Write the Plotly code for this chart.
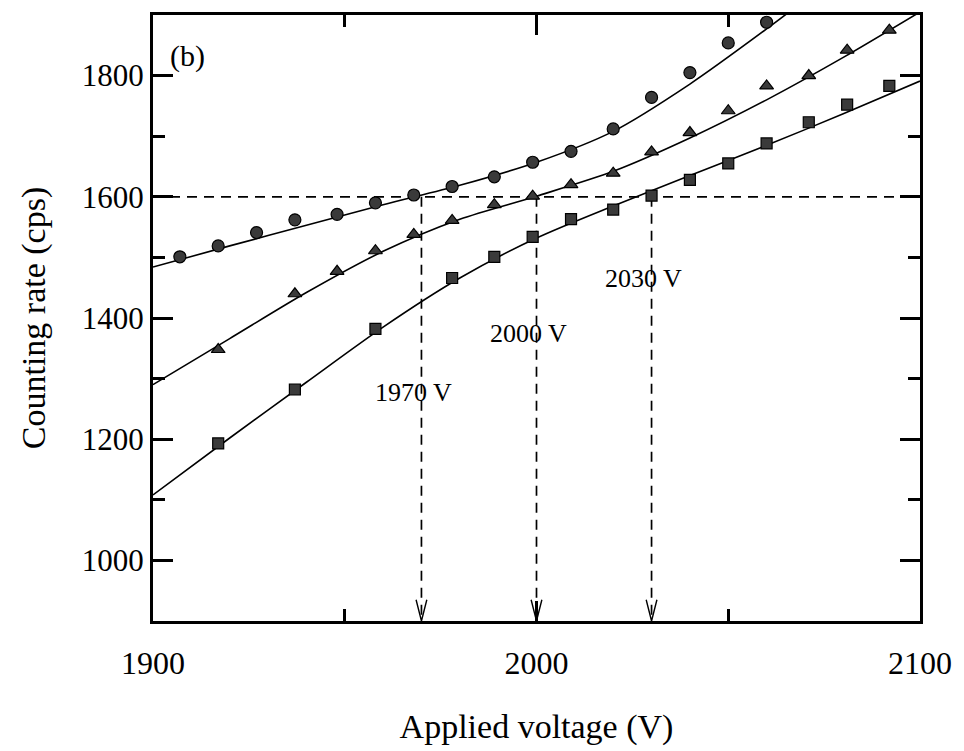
import plotly.graph_objects as go

# Applied voltage (V) at which the counting rate was measured
volt_circle = [1907, 1917, 1927, 1937, 1948, 1958, 1968, 1978, 1989, 1999,
               2009, 2020, 2030, 2040, 2050, 2060]
rate_circle = [1501, 1519, 1541, 1562, 1571, 1590, 1603, 1617, 1633, 1657,
               1675, 1712, 1764, 1805, 1854, 1888]

volt_triangle = [1917, 1937, 1948, 1958, 1968, 1978, 1989, 1999, 2009, 2020,
                 2030, 2040, 2050, 2060, 2071, 2081, 2092]
rate_triangle = [1348, 1440, 1477, 1511, 1538, 1561, 1587, 1601, 1620, 1639,
                 1674, 1706, 1742, 1783, 1800, 1842, 1875]

volt_square = [1917, 1937, 1958, 1978, 1989, 1999, 2009, 2020, 2030, 2040,
               2050, 2060, 2071, 2081, 2092]
rate_square = [1193, 1282, 1382, 1466, 1501, 1534, 1563, 1579, 1602, 1628,
               1655, 1688, 1723, 1752, 1783]

# Fitted curves through each data set
fit_volt = [1900, 1920, 1940, 1960, 1980, 2000, 2020, 2040, 2060, 2080, 2100]
fit_volt_circle = [1900, 1920, 1940, 1960, 1980, 2000, 2020, 2040, 2060, 2070]
fit_circle = [1484, 1519, 1553, 1587, 1619, 1657, 1708, 1786, 1877, 1925]
fit_triangle = [1290, 1366, 1442, 1510, 1563, 1601, 1642, 1697, 1760, 1830, 1905]
fit_square = [1108, 1202, 1294, 1385, 1466, 1532, 1585, 1635, 1685, 1737, 1791]

# Operating-voltage markers at a counting rate of 1600 cps
ref_rate = 1600
op_volts = [1970, 2000, 2030]
op_labels = ["1970 V", "2000 V", "2030 V"]
op_label_rate = [1277, 1375, 1466]

x_range = [1900, 2100]
y_range = [900, 1900]

FONT = "Liberation Serif"
BLACK = "#000000"
MARK_FILL = "#3a3a3a"

fig = go.Figure()

line_style = dict(color=BLACK, width=1.6, shape="spline", smoothing=0.8)
for xs, ys in [(fit_volt_circle, fit_circle), (fit_volt, fit_triangle),
               (fit_volt, fit_square)]:
    fig.add_trace(go.Scatter(x=xs, y=ys, mode="lines", line=line_style,
                             hoverinfo="skip", showlegend=False))

# horizontal reference at 1600 cps
fig.add_trace(go.Scatter(x=x_range, y=[ref_rate, ref_rate], mode="lines",
                         line=dict(color=BLACK, width=1.7, dash="10px,7px"),
                         hoverinfo="skip", showlegend=False))

# vertical dashed drops with open arrowheads at the voltage axis
head_half_width = 1.4   # V
head_length = 35        # cps
for v in op_volts:
    fig.add_trace(go.Scatter(x=[v, v], y=[ref_rate, y_range[0]], mode="lines",
                             line=dict(color=BLACK, width=1.7, dash="10px,7px"),
                             hoverinfo="skip", showlegend=False))
    fig.add_trace(go.Scatter(x=[v - head_half_width, v, v + head_half_width],
                             y=[y_range[0] + head_length, y_range[0], y_range[0] + head_length],
                             mode="lines", line=dict(color=BLACK, width=1.4),
                             cliponaxis=False, hoverinfo="skip", showlegend=False))

# measured points
fig.add_trace(go.Scatter(x=volt_circle, y=rate_circle, mode="markers",
                         marker=dict(symbol="circle", size=12, color=MARK_FILL,
                                     line=dict(color=BLACK, width=1.2)),
                         showlegend=False))
fig.add_trace(go.Scatter(x=volt_triangle, y=rate_triangle, mode="markers",
                         marker=dict(symbol="triangle-up", size=12, color=MARK_FILL,
                                     line=dict(color=BLACK, width=1.2)),
                         showlegend=False))
fig.add_trace(go.Scatter(x=volt_square, y=rate_square, mode="markers",
                         marker=dict(symbol="square", size=11, color=MARK_FILL,
                                     line=dict(color=BLACK, width=1.2)),
                         showlegend=False))

annotations = []
for v, lab, r in zip(op_volts, op_labels, op_label_rate):
    annotations.append(dict(x=v, y=r, text=lab, showarrow=False,
                            xanchor="center", yanchor="middle", xshift=-8,
                            font=dict(family=FONT, size=26, color=BLACK)))
annotations.append(dict(x=0.0, y=1.0, xref="paper", yref="paper", text="(b)",
                        showarrow=False, xanchor="left", yanchor="top",
                        xshift=15, yshift=-22,
                        font=dict(family=FONT, size=30, color=BLACK)))

axis_common = dict(showgrid=False, zeroline=False, showline=True, linecolor=BLACK,
                   linewidth=3, mirror="ticks", ticks="inside", tickcolor=BLACK,
                   tickwidth=2.5, ticklen=20)

fig.update_xaxes(range=x_range, tickvals=[1900, 2000, 2100], ticklabelstandoff=12,
                 tickfont=dict(family=FONT, size=32, color=BLACK),
                 minor=dict(tickvals=[1950, 2050], ticks="inside", ticklen=12,
                            tickwidth=2.5, tickcolor=BLACK),
                 title=dict(text="Applied voltage (V)", standoff=34,
                            font=dict(family=FONT, size=34, color=BLACK)),
                 **axis_common)
fig.update_yaxes(range=y_range, tickvals=[1000, 1200, 1400, 1600, 1800],
                 tickfont=dict(family=FONT, size=31, color=BLACK),
                 minor=dict(tickvals=[1100, 1300, 1500, 1700], ticks="inside",
                            ticklen=12, tickwidth=2.5, tickcolor=BLACK),
                 title=dict(text="Counting rate (cps)", standoff=26,
                            font=dict(family=FONT, size=34, color=BLACK)),
                 **axis_common)

fig.update_layout(width=964, height=751, margin=dict(l=153, r=44, t=12, b=127),
                  plot_bgcolor="white", paper_bgcolor="white",
                  annotations=annotations, showlegend=False)

fig.write_html("out.html")
